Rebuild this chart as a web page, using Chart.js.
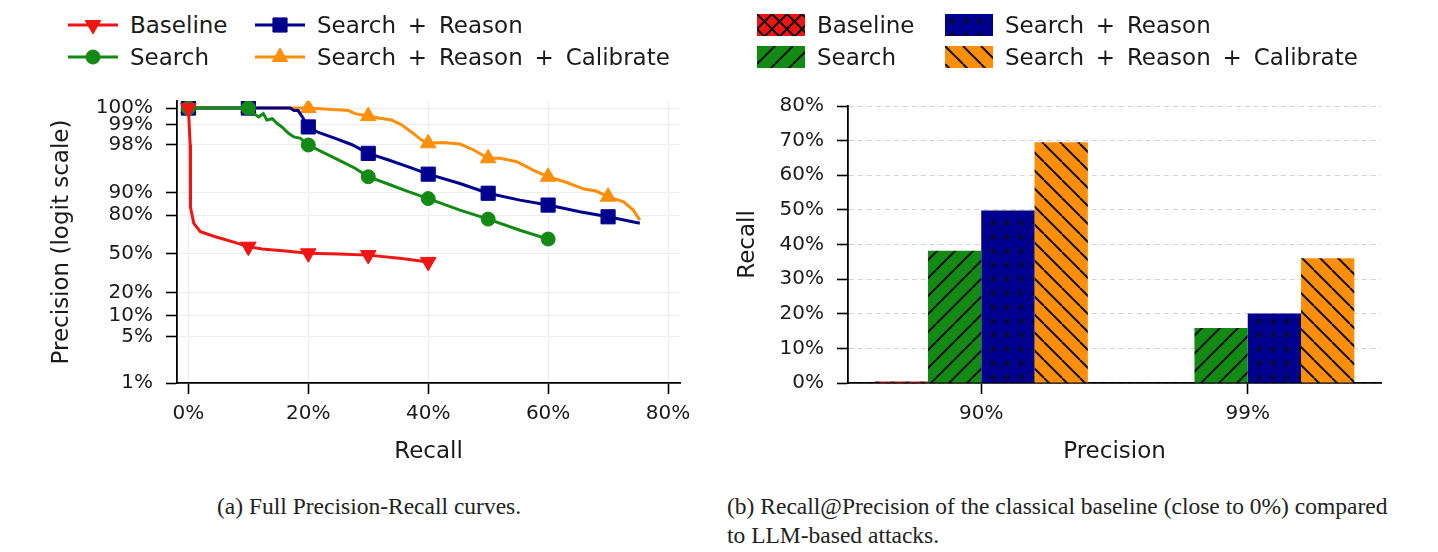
<!DOCTYPE html>
<html>
<head>
<meta charset="utf-8">
<script src="https://cdn.jsdelivr.net/npm/chart.js@4.4.1/dist/chart.umd.min.js"></script>
<style>
  body { margin: 0; width: 1438px; height: 552px; background: #fff; position: relative; overflow: hidden;
         font-family: "DejaVu Sans", sans-serif; color: #1a1a1a; }
  .box { position: absolute; top: 90px; height: 390px; }
  #left-box { left: 0; width: 720px; }
  #right-box { left: 720px; width: 718px; }
  .legend { position: absolute; top: 9px; display: grid; grid-template-columns: 187px auto; font-size: 23px; word-spacing: 4.5px; }
  .legend .item { display: flex; align-items: center; height: 32px; white-space: nowrap; }
  .legend canvas { margin-right: 12px; }
  #legend-left { left: 68px; }
  #legend-right { left: 757px; grid-template-columns: 188px auto; }
  .caption { position: absolute; font-family: "Liberation Serif", serif; font-size: 23.5px; color: #222; line-height: 29px; }
</style>
</head>
<body>
<div id="legend-left" class="legend"></div>
<div id="legend-right" class="legend"></div>
<div class="box" id="left-box"><canvas id="pr-chart" width="720" height="390"></canvas></div>
<div class="box" id="right-box"><canvas id="rp-chart" width="718" height="390"></canvas></div>
<div class="caption" style="left:217px; top:492px;">(a) Full Precision-Recall curves.</div>
<div class="caption" style="left:727px; top:492px;">(b) Recall@Precision of the classical baseline (close to 0%) compared<br>to LLM-based attacks.</div>
<script>
// ---- left panel: precision-recall curves (recall %, precision %) ----
const recallTicks = [0, 20, 40, 60, 80];
const precisionTicks = [1, 5, 10, 20, 50, 80, 90, 98, 99, 100];
const precisionTickLabels = ["1%", "5%", "10%", "20%", "50%", "80%", "90%", "98%", "99%", "100%"];

const baselineRecall = [0, 0.3, 0.35, 0.9, 2, 4.5, 7.3, 10, 12.3, 16.2, 20, 25, 30, 35.6, 40];
const baselinePrecision = [100, 98, 84, 74.9, 68.9, 64.9, 60.8, 56.5, 54.5, 52.7, 50.6, 50, 49, 46, 43];

const searchRecall = [0, 10, 10.9, 11.7, 12.5, 13.1, 14, 14.8, 15.6, 16.7, 17.6, 18.7, 20, 22.8, 25.6, 27.8, 30, 33.4, 36.7, 40, 45.3, 50, 55.3, 60, 61.1];
const searchPrecision = [100, 100, 99.33, 99.25, 99.33, 99.16, 99.2, 99.05, 98.93, 98.66, 98.48, 98.4, 97.98, 97.3, 96.4, 95.5, 94, 92.3, 90.2, 87.8, 82.7, 77.6, 70, 63, 60.8];

const reasonRecall = [0, 10, 17, 17.6, 18.3, 19, 20, 21.7, 24.5, 27.3, 30, 33.4, 36.7, 40, 45.3, 50, 55.3, 60, 65.3, 70, 75.3];
const reasonPrecision = [100, 100, 100, 99.4, 99.4, 99.25, 98.93, 98.7, 98.4, 98.0, 97.3, 96.6, 95.7, 94.5, 92.5, 89.7, 87.2, 85.1, 81.8, 79, 74.9];

const calibrateRecall = [0, 10, 20, 26.7, 27.8, 30, 31.7, 33.9, 35.6, 37.3, 38.9, 40, 42.5, 45.3, 47.6, 50, 52, 54.8, 57.5, 60, 63, 66, 68, 70, 72.6, 74.2, 75.3];
const calibratePrecision = [100, 100, 100, 99.4, 99.33, 99.27, 99.22, 99.16, 99.0, 98.7, 98.3, 98.1, 98.15, 98.05, 97.6, 96.8, 96.8, 96.4, 95.2, 94.0, 92.8, 91.0, 90.4, 88.5, 86.5, 82.7, 77];

// ---- right panel: recall at fixed precision (%) ----
const precisionLevels = ["90%", "99%"];
const baselineAtP = [0.4, 0];
const searchAtP = [38.2, 15.9];
const reasonAtP = [49.8, 20.1];
const calibrateAtP = [69.5, 36.0];
const recallTickStep = 10;

const RED = "#f01515", GREEN = "#138a13", BLUE = "#00008f", ORANGE = "#ff8f0a";
const P_TOP = 99.45; // 100% is clipped just under the top of the logit axis

function logit(p) {
  const q = Math.min(p, P_TOP) / 100;
  return Math.log(q / (1 - q));
}
const points = (xs, ys) => xs.map((x, i) => ({ x, y: logit(ys[i]) }));

Chart.defaults.font.family = "'DejaVu Sans', sans-serif";
Chart.defaults.color = "#1a1a1a";

// fixed plot boxes so both panels line up with the figure
const fitY = (w) => (scale) => { scale.width = w; scale.paddingTop = 0; scale.paddingBottom = 0; };
const fitX = (h) => (scale) => { scale.height = h; };

function lineSet(label, xs, ys, color, style, radius, rotation) {
  return {
    label, data: points(xs, ys),
    borderColor: color, backgroundColor: color, borderWidth: 3,
    pointStyle: style, pointRotation: rotation || 0, markerRadius: radius,
    pointBackgroundColor: color, pointBorderColor: color, pointBorderWidth: 1,
    pointRadius: (ctx) => (ctx.raw && ctx.raw.x % 10 === 0 ? ctx.dataset.markerRadius : 0),
    pointHoverRadius: 0, tension: 0, fill: false,
  };
}

const prChart = new Chart(document.getElementById("pr-chart"), {
  type: "line",
  data: {
    datasets: [
      lineSet("Baseline", baselineRecall, baselinePrecision, RED, "triangle", 9, 180),
      lineSet("Search", searchRecall, searchPrecision, GREEN, "circle", 7),
      lineSet("Search + Reason", reasonRecall, reasonPrecision, BLUE, "rect", 10),
      lineSet("Search + Reason + Calibrate", calibrateRecall, calibratePrecision, ORANGE, "triangle", 9),
    ],
  },
  options: {
    responsive: false, animation: false,
    layout: { padding: { top: 11, right: 40, left: 0, bottom: 0 } },
    plugins: { legend: { display: false }, tooltip: { enabled: false } },
    scales: {
      x: {
        type: "linear", min: -1.9, max: 82,
        afterBuildTicks: (axis) => { axis.ticks = recallTicks.map((v) => ({ value: v })); },
        afterFit: fitX(97),
        ticks: { callback: (v) => v + "%", font: { size: 20 }, padding: 8, maxRotation: 0 },
        grid: { color: "#ededed", lineWidth: 1, tickColor: "#000", tickLength: 11, tickWidth: 1.6 },
        border: { color: "#000", width: 1.8 },
        title: { display: true, text: "Recall", font: { size: 23 }, padding: { top: 0, bottom: 14 } },
      },
      y: {
        type: "linear", min: logit(1), max: 5.45,
        afterBuildTicks: (axis) => { axis.ticks = precisionTicks.map((p) => ({ value: logit(p) })); },
        afterFit: fitY(177),
        ticks: { callback: (v, i) => precisionTickLabels[i], font: { size: 20 }, padding: 13 },
        grid: { color: "#ededed", lineWidth: 1, tickColor: "#000", tickLength: 11, tickWidth: 1.6 },
        border: { color: "#000", width: 1.8 },
        title: { display: true, text: "Precision (logit scale)", font: { size: 23 }, padding: { top: 48, bottom: 0 } },
      },
    },
  },
});

// hatched fills for the bars
function hatch(color, kind) {
  const s = kind === "dots" ? 14 : (kind === "x" ? 15 : 18);
  const c = document.createElement("canvas");
  c.width = c.height = s;
  const g = c.getContext("2d");
  g.fillStyle = color; g.fillRect(0, 0, s, s);
  g.strokeStyle = "#111"; g.fillStyle = "#0a0a30"; g.lineWidth = 2;
  if (kind === "dots") {
    g.beginPath(); g.arc(s / 2, s / 2, 2.6, 0, Math.PI * 2); g.fill();
  } else {
    for (let k = -1; k <= 1; k++) {
      if (kind === "/" || kind === "x") { g.beginPath(); g.moveTo(k * s, s); g.lineTo(k * s + s, 0); g.stroke(); }
      if (kind === "\\" || kind === "x") { g.beginPath(); g.moveTo(k * s, 0); g.lineTo(k * s + s, s); g.stroke(); }
    }
  }
  return g.createPattern(c, "repeat");
}

const rpChart = new Chart(document.getElementById("rp-chart"), {
  type: "bar",
  data: {
    labels: precisionLevels,
    datasets: [
      { label: "Baseline", data: baselineAtP, backgroundColor: hatch(RED, "x"), swatch: [RED, "x"] },
      { label: "Search", data: searchAtP, backgroundColor: hatch(GREEN, "/"), swatch: [GREEN, "/"] },
      { label: "Search + Reason", data: reasonAtP, backgroundColor: hatch(BLUE, "dots"), swatch: [BLUE, "dots"] },
      { label: "Search + Reason + Calibrate", data: calibrateAtP, backgroundColor: hatch(ORANGE, "\\"), swatch: [ORANGE, "\\"] },
    ],
  },
  options: {
    responsive: false, animation: false,
    layout: { padding: { top: 16, right: 57, left: 0, bottom: 0 } },
    plugins: { legend: { display: false }, tooltip: { enabled: false } },
    datasets: { bar: { categoryPercentage: 0.8, barPercentage: 1.0, borderWidth: 0 } },
    scales: {
      x: {
        afterFit: fitX(97),
        ticks: { font: { size: 20 }, padding: 8 },
        grid: { offset: false, drawOnChartArea: false, tickColor: "#000", tickLength: 11, tickWidth: 1.6 },
        border: { color: "#000", width: 1.8 },
        title: { display: true, text: "Precision", font: { size: 23 }, padding: { top: 0, bottom: 14 } },
      },
      y: {
        min: 0, max: 80,
        afterFit: fitY(128),
        ticks: { stepSize: recallTickStep, callback: (v) => v + "%", font: { size: 20 }, padding: 13 },
        grid: { color: "#d4d4d4", lineWidth: 1, tickColor: "#000", tickLength: 11, tickWidth: 1.6 },
        border: { color: "#000", width: 1.8, dash: [5, 4] },
        title: { display: true, text: "Recall", font: { size: 23 }, padding: { top: 14, bottom: 0 } },
      },
    },
  },
});

// html legends, two columns like the original figure
function lineIcon(ds) {
  const c = document.createElement("canvas");
  c.width = 50; c.height = 24;
  const g = c.getContext("2d");
  g.strokeStyle = ds.borderColor; g.lineWidth = 3;
  g.beginPath(); g.moveTo(0, 12); g.lineTo(50, 12); g.stroke();
  g.fillStyle = ds.borderColor; g.lineWidth = 1;
  Chart.helpers.drawPoint(g, { pointStyle: ds.pointStyle, radius: ds.markerRadius, rotation: ds.pointRotation, borderWidth: 1 }, 25, 12);
  return c;
}
function patchIcon(ds) {
  const c = document.createElement("canvas");
  c.width = 48; c.height = 22;
  const g = c.getContext("2d");
  g.fillStyle = hatch(ds.swatch[0], ds.swatch[1]);
  g.fillRect(0, 0, 48, 22);
  return c;
}
function buildLegend(el, chart, iconFn) {
  const order = [0, 2, 1, 3]; // 2x2 grid filled column by column, as in the figure
  for (const i of order) {
    const ds = chart.data.datasets[i];
    const item = document.createElement("div");
    item.className = "item";
    item.appendChild(iconFn(ds));
    const span = document.createElement("span");
    span.textContent = ds.label;
    item.appendChild(span);
    el.appendChild(item);
  }
}
buildLegend(document.getElementById("legend-left"), prChart, lineIcon);
buildLegend(document.getElementById("legend-right"), rpChart, patchIcon);
</script>
</body>
</html>
